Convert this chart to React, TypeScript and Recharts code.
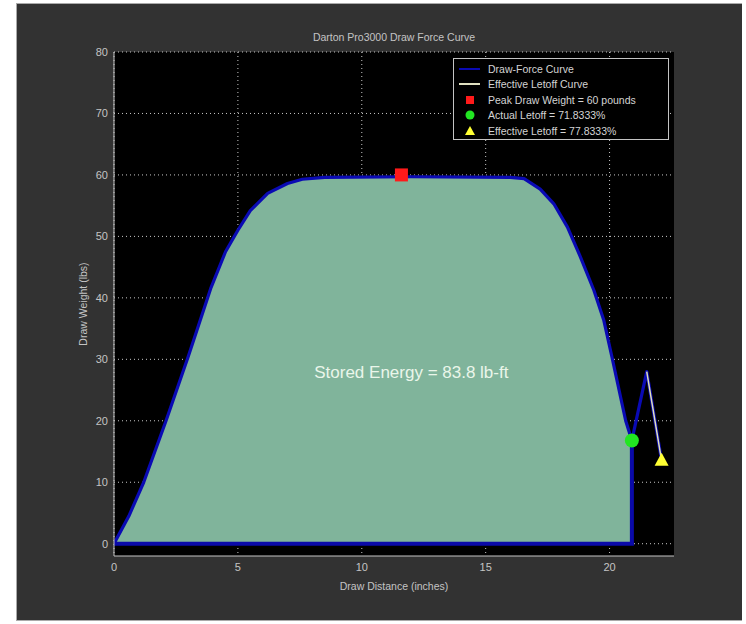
import {
  ComposedChart,
  Area,
  Line,
  Scatter,
  XAxis,
  YAxis,
  CartesianGrid,
  Legend,
  ReferenceDot,
} from "recharts";

// draw-force curve (inches, lbs)
const curveX = [
  0, 0.6, 1.2, 2.1, 3.0, 3.9, 4.5, 5.0, 5.5, 6.2, 7.0, 7.6, 8.5, 12, 16.0,
  16.55, 17.2, 17.75, 18.3, 18.83, 19.37, 19.77, 20.1, 20.65, 20.9,
];
const curveY = [
  0, 4.5, 10, 20, 30.5, 41.5, 47.5, 51, 54.2, 57, 58.6, 59.3, 59.6, 59.7, 59.6,
  59.4, 57.7, 55.3, 51.5, 46.6, 41.2, 36.3, 30.3, 20, 16.8,
];

// tail after letoff point
const tailX = [20.9, 21.5, 22.1];
const tailY = [16.8, 28, 13.5];

// effective letoff curve
const letoffX = [21.5, 22.1];
const letoffY = [28, 13.5];

const peakPoint = [{ x: 11.6, y: 60 }];
const actualLetoff = [{ x: 20.9, y: 16.8 }];
const effectiveLetoff = [{ x: 22.1, y: 13.5 }];

const xTicks = [0, 5, 10, 15, 20];
const yTicks = [0, 10, 20, 30, 40, 50, 60, 70, 80];

const legendItems = [
  { label: "Draw-Force Curve", kind: "line", color: "#0a0ab4" },
  { label: "Effective Letoff Curve", kind: "line", color: "#e0e0c0" },
  { label: "Peak Draw Weight = 60 pounds", kind: "square", color: "#ff1a1a" },
  { label: "Actual Letoff = 71.8333%", kind: "circle", color: "#22e622" },
  { label: "Effective Letoff = 77.8333%", kind: "triangle", color: "#ffff33" },
];

const areaData = curveX
  .map((x, i) => ({ x, y: curveY[i] }))
  .concat([{ x: 20.9, y: 0 }]);
const lineData = curveX
  .map((x, i) => ({ x, y: curveY[i] }))
  .concat(tailX.slice(1).map((x, i) => ({ x, y: tailY[i + 1] })));
const baseData = [
  { x: 0, y: 0 },
  { x: 20.9, y: 0 },
  { x: 20.9, y: 16.8 },
];
const letoffData = letoffX.map((x, i) => ({ x, y: letoffY[i] }));

const font = "'Liberation Sans', Arial, sans-serif";
const textColor = "#c4c4c4";

function LegendBox() {
  return (
    <div
      style={{
        background: "#000",
        border: "1px solid #c4c4c4",
        width: 214,
        height: 78,
        fontFamily: font,
        fontSize: 10.5,
        color: "#d4d4d4",
        boxSizing: "content-box",
        paddingTop: 2,
      }}
    >
      {legendItems.map((it) => (
        <div
          key={it.label}
          style={{ display: "flex", alignItems: "center", height: 15.5 }}
        >
          <svg width={34} height={14}>
            {it.kind === "line" && (
              <line x1={5} x2={26} y1={7} y2={7} stroke={it.color} strokeWidth={2} />
            )}
            {it.kind === "square" && (
              <rect x={12} y={3} width={8} height={8} fill={it.color} />
            )}
            {it.kind === "circle" && <circle cx={16} cy={7} r={4.5} fill={it.color} />}
            {it.kind === "triangle" && (
              <polygon points="16,2 11,11 21,11" fill={it.color} />
            )}
          </svg>
          <span>{it.label}</span>
        </div>
      ))}
    </div>
  );
}

export default function App() {
  return (
    <div
      style={{
        position: "absolute",
        left: 16,
        top: 3,
        width: 726,
        height: 618,
        background: "#323232",
        borderTop: "1px solid #aaa",
        borderLeft: "1px solid #aaa",
        borderBottom: "1px solid #aaa",
        boxSizing: "border-box",
      }}
    >
      <div
        style={{
          position: "absolute",
          top: 27,
          left: 97,
          width: 560,
          textAlign: "center",
          fontFamily: font,
          fontSize: 10.5,
          color: textColor,
        }}
      >
        Darton Pro3000 Draw Force Curve
      </div>
      <ComposedChart
        width={726}
        height={618}
        margin={{ top: 48, right: 69, bottom: 26, left: 35 }}
        style={{ fontFamily: font }}
      >
        <CartesianGrid
          fill="#000"
          stroke="#c8c8c8"
          strokeDasharray="1 3"
          horizontalValues={yTicks}
          verticalValues={xTicks}
        />
        <XAxis
          type="number"
          dataKey="x"
          domain={[0, 22.6]}
          ticks={xTicks}
          allowDataOverflow
          stroke={textColor}
          tickLine={false}
          tickSize={5}
          tickMargin={2}
          height={40}
          tick={{ fill: textColor, fontSize: 11 }}
          label={{
            value: "Draw Distance (inches)",
            position: "insideBottom",
            offset: 6,
            fill: textColor,
            fontSize: 10.5,
          }}
        />
        <XAxis
          xAxisId="top"
          orientation="top"
          type="number"
          dataKey="x"
          domain={[0, 22.6]}
          stroke={textColor}
          tick={false}
          tickLine={false}
          height={0}
        />
        <YAxis
          type="number"
          dataKey="y"
          domain={[-2, 80]}
          ticks={yTicks}
          allowDataOverflow
          stroke={textColor}
          tickLine={false}
          tickSize={4}
          tickMargin={2}
          width={62}
          tick={{ fill: textColor, fontSize: 11 }}
          label={{
            value: "Draw Weight (lbs)",
            angle: -90,
            position: "center",
            fill: textColor,
            fontSize: 10.5,
          }}
        />
        <YAxis
          yAxisId="right"
          orientation="right"
          type="number"
          domain={[-2, 80]}
          stroke={textColor}
          tick={false}
          tickLine={false}
          width={0}
        />
        <Line
          data={lineData}
          dataKey="y"
          type="linear"
          stroke="#0a0ab4"
          strokeWidth={3.2}
          strokeLinejoin="round"
          dot={false}
          isAnimationActive={false}
          legendType="none"
        />
        <Line
          data={baseData}
          dataKey="y"
          type="linear"
          stroke="#0a0aa8"
          strokeWidth={4}
          dot={false}
          isAnimationActive={false}
          legendType="none"
        />
        <Area
          data={areaData}
          dataKey="y"
          type="linear"
          baseValue={0}
          fill="#80b49b"
          fillOpacity={1}
          stroke="#a0c4f0"
          strokeWidth={1.2}
          strokeLinejoin="round"
          isAnimationActive={false}
          legendType="none"
        />
        <Line
          data={letoffData}
          dataKey="y"
          type="linear"
          stroke="#e0e0b8"
          strokeWidth={1.5}
          dot={false}
          isAnimationActive={false}
          legendType="none"
        />
        <Scatter
          data={peakPoint}
          dataKey="y"
          isAnimationActive={false}
          shape={(p: any) => (
            <rect x={p.cx - 6.5} y={p.cy - 6.5} width={13} height={13} fill="#ff1a1a" />
          )}
        />
        <Scatter
          data={actualLetoff}
          dataKey="y"
          isAnimationActive={false}
          shape={(p: any) => <circle cx={p.cx} cy={p.cy} r={7} fill="#22e622" />}
        />
        <Scatter
          data={effectiveLetoff}
          dataKey="y"
          isAnimationActive={false}
          shape={(p: any) => (
            <polygon
              points={`${p.cx},${p.cy - 8} ${p.cx - 7},${p.cy + 5} ${p.cx + 7},${p.cy + 5}`}
              fill="#ffff33"
            />
          )}
        />
        <ReferenceDot
          x={12.0}
          y={27.9}
          r={0}
          fill="none"
          stroke="none"
          label={{
            value: "Stored Energy = 83.8 lb-ft",
            position: "center",
            fill: "#eaf6ea",
            fontSize: 17,
          }}
        />
        <Legend
          layout="vertical"
          align="center"
          verticalAlign="middle"
          content={() => <LegendBox />}
          wrapperStyle={{ position: "absolute", left: 436, top: 54, width: 216, height: 81 }}
        />
      </ComposedChart>
    </div>
  );
}
